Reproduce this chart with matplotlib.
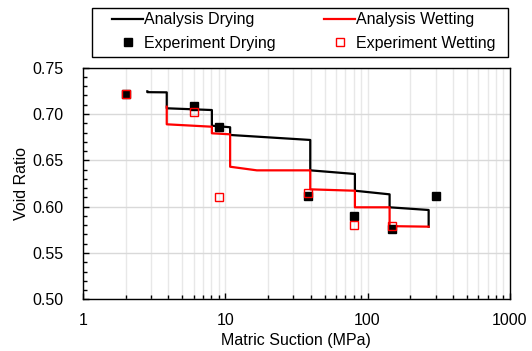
import matplotlib
matplotlib.use("Agg")
import matplotlib.pyplot as plt
from matplotlib.patches import Rectangle
from matplotlib.ticker import MultipleLocator, LogLocator, NullFormatter, FixedLocator, FixedFormatter

plt.rcParams['font.family'] = ['Liberation Sans', 'DejaVu Sans']

# Analysis curves (step-like paths)
ad_x = [2.84, 2.84, 3.89, 3.89, 8.07, 8.07, 10.84, 10.84, 39.6, 39.6, 81.5, 81.5, 142.8, 142.8, 268.5, 268.5]
ad_y = [0.7245, 0.7236, 0.7234, 0.7062, 0.7043, 0.6874, 0.6857, 0.6774, 0.6720, 0.6392, 0.6353, 0.6172, 0.6133, 0.5993, 0.5964, 0.5784]

aw_x = [268.5, 142.8, 142.8, 81.5, 81.5, 39.6, 39.6, 16.7, 10.84, 10.84, 8.07, 8.07, 3.89, 3.89]
aw_y = [0.5784, 0.5790, 0.5993, 0.5993, 0.6172, 0.6187, 0.6392, 0.6392, 0.6431, 0.6781, 0.6792, 0.6863, 0.6889, 0.7079]

# Experiments
ed_x = [2, 6, 9, 38, 80, 148, 300]
ed_y = [0.722, 0.709, 0.686, 0.612, 0.590, 0.576, 0.611]

ew_x = [2, 6, 9, 38, 80, 148]
ew_y = [0.722, 0.7025, 0.610, 0.6144, 0.5805, 0.579]

FS = 11.5

fig = plt.figure(figsize=(5.32, 3.51), dpi=100)
ax = fig.add_axes([0.1555, 0.1473, 0.8031, 0.6598])

ax.set_xscale('log')
ax.set_xlim(1, 1000)
ax.set_ylim(0.50, 0.75)

ax.grid(True, which='major', axis='y', color='#d9d9d9', lw=1.0)
ax.grid(True, which='both', axis='x', color='#e8e8e8', lw=1.0)
ax.set_axisbelow(True)

l1, = ax.plot(ad_x, ad_y, color='black', lw=1.6, label='Analysis Drying', zorder=3)
l2, = ax.plot(aw_x, aw_y, color='#ff0000', lw=1.6, label='Analysis Wetting', zorder=3)
m1, = ax.plot(ed_x, ed_y, ls='none', marker='s', ms=6.2, mfc='black', mec='black',
              label='Experiment Drying', zorder=4)
m2, = ax.plot(ew_x, ew_y, ls='none', marker='s', ms=6.2, mfc='none', mec='#ff0000', mew=1.0,
              label='Experiment Wetting', zorder=5)

ax.yaxis.set_minor_locator(MultipleLocator(0.01))
ax.set_yticks([0.50, 0.55, 0.60, 0.65, 0.70, 0.75])
ax.set_yticklabels(['0.50', '0.55', '0.60', '0.65', '0.70', '0.75'])
ax.xaxis.set_major_locator(FixedLocator([1, 10, 100, 1000]))
ax.xaxis.set_major_formatter(FixedFormatter(['1', '10', '100', '1000']))
ax.xaxis.set_minor_locator(LogLocator(base=10, subs=range(2, 10)))
ax.xaxis.set_minor_formatter(NullFormatter())

ax.tick_params(which='both', direction='in', labelsize=FS, colors='black')
ax.tick_params(which='major', length=4, width=1)
ax.tick_params(which='minor', length=3, width=1)
ax.tick_params(axis='x', which='major', pad=10)
ax.tick_params(axis='y', which='major', pad=13.5)
for s in ax.spines.values():
    s.set_color('black')
    s.set_linewidth(1.0)

ax.set_xlabel('Matric Suction (MPa)', fontsize=FS, labelpad=3.5)
ax.set_ylabel('Void Ratio', fontsize=FS, labelpad=2.5)

# legend frame
fig.patches.append(Rectangle((0.1729, 0.8376), 0.782, 0.1396, transform=fig.transFigure,
                             fill=False, edgecolor='black', lw=1.0, zorder=5))

leg = fig.legend(handles=[l1, m1, l2, m2], ncol=2, loc='center left',
                 bbox_to_anchor=(112 / 532, 1 - 31.5 / 351),
                 fontsize=FS, frameon=False,
                 handlelength=1.95, handletextpad=0.08, borderpad=0,
                 labelspacing=0.55, columnspacing=3.0, numpoints=1, borderaxespad=0)

fig.savefig('out.png', dpi=100)
